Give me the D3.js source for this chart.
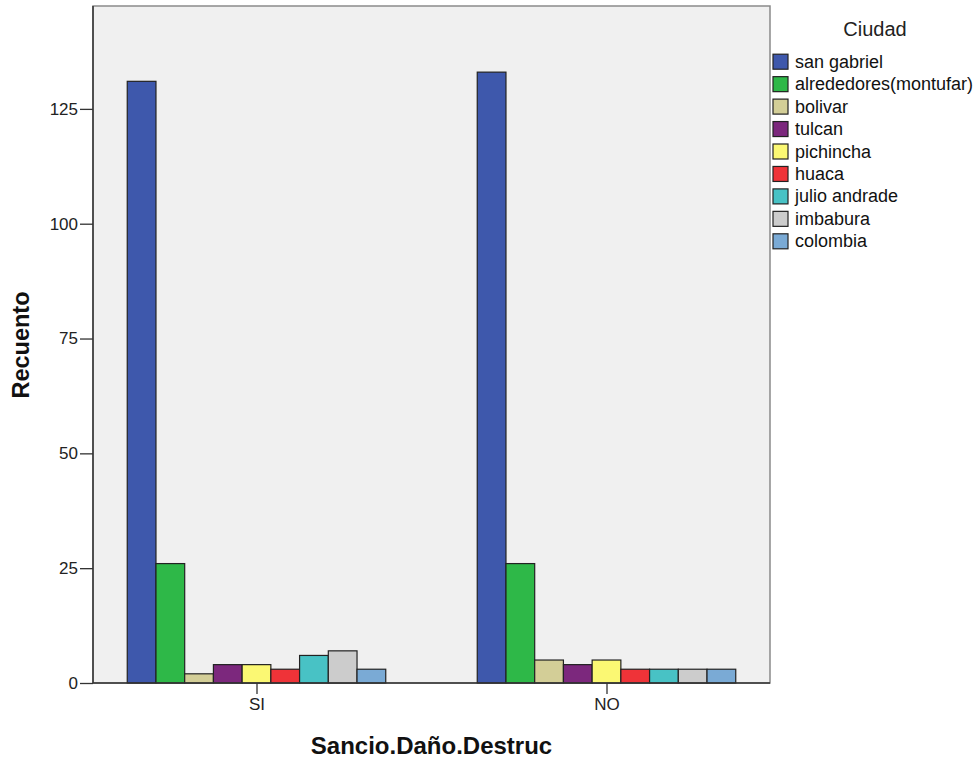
<!DOCTYPE html>
<html><head><meta charset="utf-8">
<script src="https://cdn.jsdelivr.net/npm/d3@7"></script>
<style>body{margin:0;background:#fff;} svg{display:block;font-family:"Liberation Sans",Arial,sans-serif;}</style>
</head><body><svg id="c" width="979" height="759"></svg>
<script>
const groups = ["SI", "NO"];
const cities = ["san gabriel","alrededores(montufar)","bolivar","tulcan","pichincha","huaca","julio andrade","imbabura","colombia"];
const valuesSI = [131, 26, 2, 4, 4, 3, 6, 7, 3];
const valuesNO = [133, 26, 5, 4, 5, 3, 3, 3, 3];
const colors = ["#3E58AC","#2EB848","#D3CE97","#7C287D","#FBF873","#EF3338","#48C2C5","#CCCCCC","#7AAAD5"];
const yTicks = [0, 25, 50, 75, 100, 125];
const xTitle = "Sancio.Daño.Destruc";
const yTitle = "Recuento";
const legendTitle = "Ciudad";

const svg = d3.select("#c");
const L = 93, R = 770, T = 6, B = 683;
const step = 350, gw = 258.5;
const xc = d3.scalePoint().domain(groups).range([L + (R - L - step) / 2, R - (R - L - step) / 2]);
const x1 = d3.scaleBand().domain(cities).range([-gw / 2, gw / 2]);
const y = d3.scaleLinear().domain([0, 147.4]).range([B, T]);

// plot background
svg.append("rect").attr("x", L).attr("y", T).attr("width", R - L).attr("height", B - T)
  .attr("fill", "#F0F0F0").attr("stroke", "#8a8a8a").attr("stroke-width", 1.5);

const data = [];
groups.forEach((g, gi) => {
  const vals = gi === 0 ? valuesSI : valuesNO;
  cities.forEach((c, ci) => data.push({g, c, v: vals[ci], col: colors[ci]}));
});
svg.append("g").selectAll("rect").data(data).join("rect")
  .attr("x", d => xc(d.g) + x1(d.c))
  .attr("y", d => y(d.v))
  .attr("width", x1.bandwidth())
  .attr("height", d => B - y(d.v))
  .attr("fill", d => d.col)
  .attr("stroke", "#222").attr("stroke-width", 1.2);

// axes
const yAxis = svg.append("g").attr("transform", `translate(${L},0)`)
  .call(d3.axisLeft(y).tickValues(yTicks).tickSize(13).tickPadding(2));
const xAxis = svg.append("g").attr("transform", `translate(0,${B})`)
  .call(d3.axisBottom(xc).tickSize(11).tickPadding(4));
[yAxis, xAxis].forEach(a => {
  a.select(".domain").attr("stroke", "#333").attr("stroke-width", 1.5);
  a.selectAll(".tick line").attr("stroke", "#333").attr("stroke-width", 1.3);
  a.selectAll(".tick text").attr("fill", "#222").style("font-size", "17px").style("font-family", "'Liberation Sans',Arial,sans-serif");
});
yAxis.select(".domain").attr("d", `M0,${T}V${B}`);
xAxis.select(".domain").attr("d", `M${L},0H${R}`);

// axis titles
svg.append("text").attr("x", 431.5).attr("y", 754).attr("text-anchor", "middle")
  .style("font-size", "24px").style("font-weight", "bold").attr("fill", "#111").text(xTitle);
svg.append("text").attr("transform", "translate(29,345) rotate(-90)").attr("text-anchor", "middle")
  .style("font-size", "23.5px").style("font-weight", "bold").attr("fill", "#111").text(yTitle);

// legend
svg.append("text").attr("x", 875).attr("y", 36).attr("text-anchor", "middle")
  .style("font-size", "20px").attr("fill", "#222").text(legendTitle);
const lg = svg.append("g").selectAll("g").data(cities).join("g")
  .attr("transform", (d, i) => `translate(773,${61.7 + i * 22.45})`);
lg.append("rect").attr("x", 0).attr("y", -7.5).attr("width", 15).attr("height", 15)
  .attr("fill", (d, i) => colors[i]).attr("stroke", "#222").attr("stroke-width", 1.2);
lg.append("text").attr("x", 22).attr("y", 6).style("font-size", "18px").attr("fill", "#111").text(d => d);
</script></body></html>
